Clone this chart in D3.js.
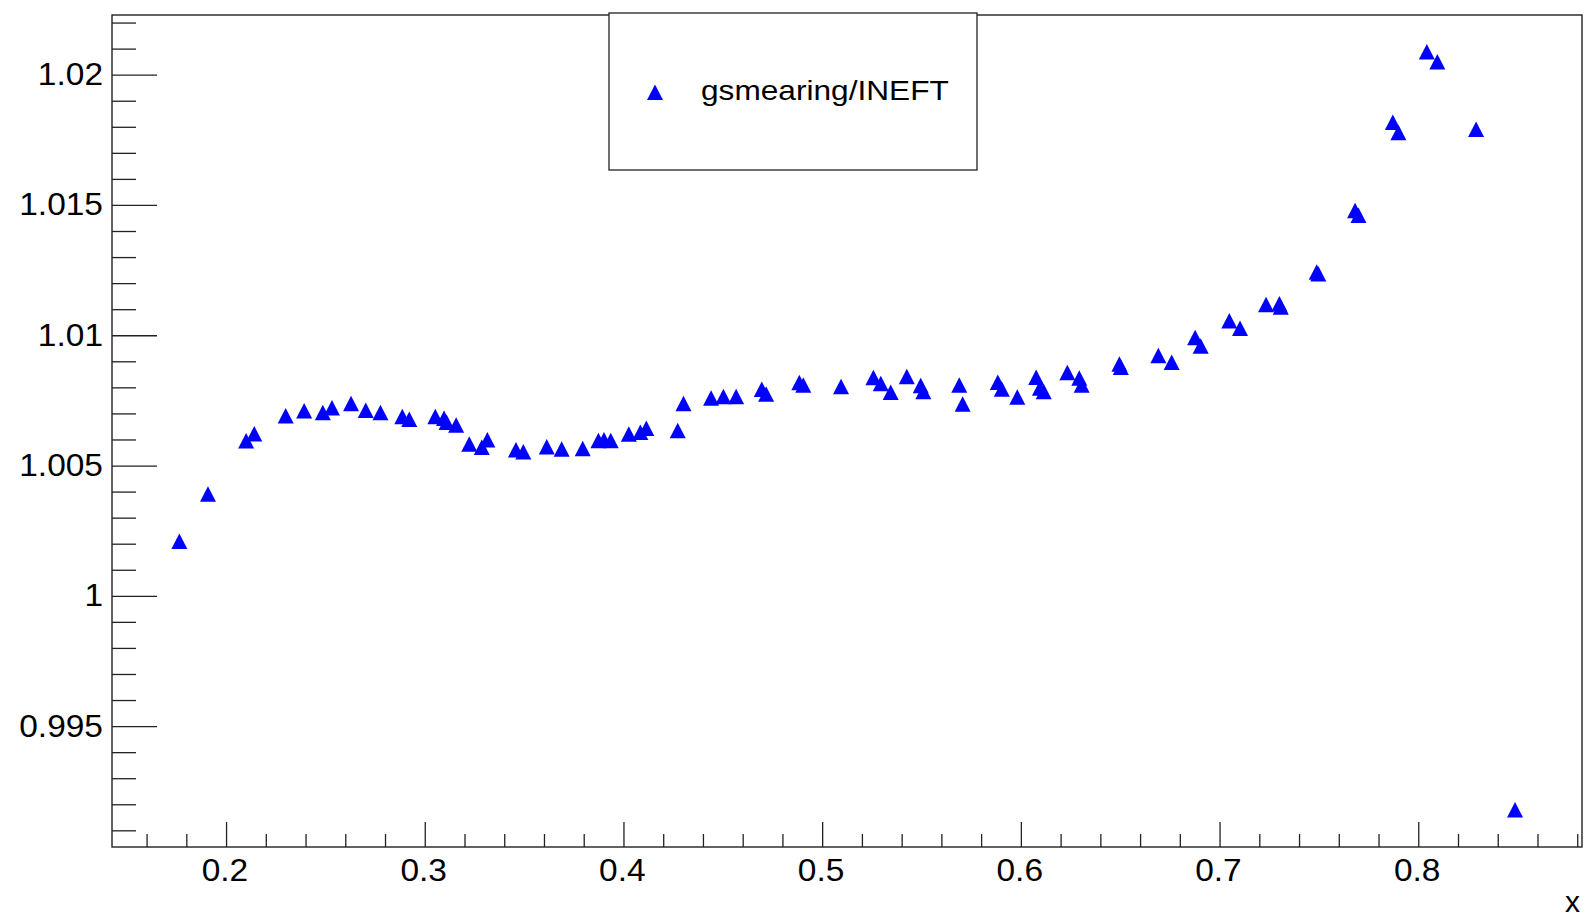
<!DOCTYPE html>
<html>
<head>
<meta charset="utf-8">
<script src="https://cdn.jsdelivr.net/npm/d3@7"></script>
<style>
  html, body { margin: 0; padding: 0; background: #fff; }
  svg { display: block; font-family: "Liberation Sans", Arial, Helvetica, sans-serif; }
</style>
</head>
<body>
<svg id="chart" width="1585" height="920"></svg>
<script>
// ratio values
const xValues = [
  0.1765, 0.1909, 0.2101, 0.2142, 0.2300, 0.2393, 0.2487, 0.2533, 0.2629, 0.2703,
  0.2777, 0.2887, 0.2922, 0.3053, 0.3097, 0.3110, 0.3158, 0.3224, 0.3287, 0.3315,
  0.3459, 0.3496, 0.3614, 0.3689, 0.3795, 0.3874, 0.3902, 0.3936, 0.4027, 0.4085,
  0.4115, 0.4273, 0.4302, 0.4441, 0.4503, 0.4567, 0.4696, 0.4718, 0.4885, 0.4905,
  0.5095, 0.5258, 0.5295, 0.5345, 0.5426, 0.5496, 0.5509, 0.5690, 0.5707, 0.5884,
  0.5904, 0.5982, 0.6077, 0.6096, 0.6115, 0.6234, 0.6294, 0.6306, 0.6496, 0.6503,
  0.6692, 0.6759, 0.6877, 0.6905, 0.7049, 0.7103, 0.7234, 0.7301, 0.7308, 0.7489,
  0.7497, 0.7682, 0.7699, 0.7872, 0.7900, 0.8043, 0.8096, 0.8291, 0.8487
];
const yValues = [
  1.00208, 1.00390, 1.00594, 1.00621, 1.00690, 1.00709, 1.00703, 1.00721, 1.00737, 1.00711,
  1.00703, 1.00687, 1.00677, 1.00687, 1.00680, 1.00665, 1.00655, 1.00582, 1.00569, 1.00598,
  1.00560, 1.00552, 1.00571, 1.00562, 1.00564, 1.00595, 1.00598, 1.00595, 1.00620, 1.00627,
  1.00642, 1.00633, 1.00737, 1.00758, 1.00764, 1.00764, 1.00792, 1.00774, 1.00818, 1.00808,
  1.00802, 1.00837, 1.00814, 1.00780, 1.00841, 1.00806, 1.00783, 1.00808, 1.00735, 1.00819,
  1.00793, 1.00762, 1.00838, 1.00797, 1.00783, 1.00856, 1.00835, 1.00808, 1.00889, 1.00876,
  1.00921, 1.00895, 1.00990, 1.00958, 1.01055, 1.01026, 1.01117, 1.01120, 1.01107, 1.01242,
  1.01235, 1.01478, 1.01460, 1.01816, 1.01777, 1.02087, 1.02049, 1.01790, 0.99178
];
const xTicks = [0.2, 0.3, 0.4, 0.5, 0.6, 0.7, 0.8];
const yTicks = [0.995, 1, 1.005, 1.01, 1.015, 1.02];
const seriesName = "gsmearing/INEFT";
const xTitle = "x";

const frame = { left: 112, right: 1582, top: 15, bottom: 847 };
const svg = d3.select("#chart");

const x = d3.scaleLinear().domain([0.1426, 0.8824]).range([frame.left, frame.right]);
const y = d3.scaleLinear().domain([0.99036, 1.02229]).range([frame.bottom, frame.top]);

const xMinor = d3.range(0.16, 0.8801, 0.02).filter(v => !xTicks.some(t => Math.abs(t - v) < 1e-6));
const yMinor = d3.range(0.991, 1.0222, 0.001).filter(v => !yTicks.some(t => Math.abs(t - v) < 1e-6));

const axisColor = "#222";
const labelScale = 1.08;

// minor ticks
svg.append("g")
  .attr("transform", `translate(0,${frame.bottom})`)
  .call(d3.axisBottom(x).tickValues(xMinor).tickSize(-13).tickFormat(""))
  .call(g => g.select(".domain").remove());
svg.append("g")
  .attr("transform", `translate(${frame.left},0)`)
  .call(d3.axisLeft(y).tickValues(yMinor).tickSize(-24).tickFormat(""))
  .call(g => g.select(".domain").remove());

// major ticks + labels
const gx = svg.append("g")
  .attr("transform", `translate(0,${frame.bottom})`)
  .call(d3.axisBottom(x).tickValues(xTicks).tickSize(-25).tickPadding(12).tickFormat(d3.format("")));
gx.select(".domain").remove();
gx.selectAll("text")
  .attr("font-size", 31)
  .attr("fill", "#000")
  .attr("transform", `scale(${labelScale},1)`)
  .attr("x", -1.5);

const gy = svg.append("g")
  .attr("transform", `translate(${frame.left},0)`)
  .call(d3.axisLeft(y).tickValues(yTicks).tickSize(-45).tickPadding(10).tickFormat(d3.format("")));
gy.select(".domain").remove();
gy.selectAll("text")
  .attr("font-size", 31)
  .attr("fill", "#000")
  .attr("x", -9 / labelScale)
  .attr("transform", `scale(${labelScale},1)`);

svg.selectAll(".tick line").attr("stroke", axisColor).attr("stroke-width", 1.3);

// frame
svg.append("rect")
  .attr("x", frame.left).attr("y", frame.top)
  .attr("width", frame.right - frame.left).attr("height", frame.bottom - frame.top)
  .attr("fill", "none").attr("stroke", axisColor).attr("stroke-width", 1.4);

// points
const tri = (cx, cy) => `M${cx},${cy - 8}L${cx + 8},${cy + 7.5}L${cx - 8},${cy + 7.5}Z`;
svg.append("g")
  .selectAll("path")
  .data(xValues.map((v, i) => [v, yValues[i]]))
  .join("path")
  .attr("d", d => tri(x(d[0]), y(d[1])))
  .attr("fill", "#0000ff");

// legend
const lg = svg.append("g");
lg.append("rect")
  .attr("x", 609).attr("y", 13).attr("width", 368).attr("height", 157)
  .attr("fill", "#fff").attr("stroke", "#222").attr("stroke-width", 1.3);
lg.append("path").attr("d", tri(655, 92.5)).attr("fill", "#0000ff");
lg.append("text")
  .attr("x", 701 / 1.13).attr("y", 100)
  .attr("transform", "scale(1.13,1)")
  .attr("font-size", 28)
  .text(seriesName);

// axis title
svg.append("text")
  .attr("x", 1580).attr("y", 912)
  .attr("text-anchor", "end")
  .attr("font-size", 30)
  .text(xTitle);
</script>
</body>
</html>
